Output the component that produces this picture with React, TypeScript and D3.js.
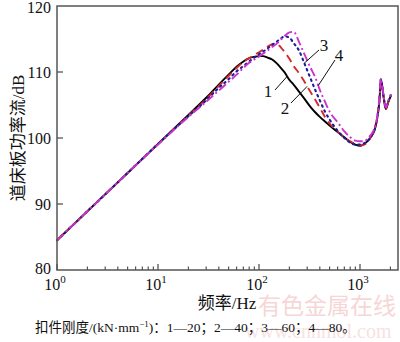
import React from "react";
import * as d3 from "d3";

const freq = [1, 2, 5, 10, 20, 30, 40, 50, 60, 70, 80, 90, 100, 110, 120, 135, 150, 165, 180, 200, 220, 250, 280, 320, 360, 400, 450, 500, 600, 700, 800, 900, 1000, 1100, 1200, 1300, 1400, 1500, 1560, 1610, 1660, 1720, 1800, 1900, 2020];

const curve1 = [84.5, 88.9, 94.7, 99.1, 103.5, 106.1, 108.1, 109.6, 110.8, 111.6, 112.1, 112.3, 112.4, 112.4, 112.2, 111.9, 111.3, 110.6, 109.9, 108.8, 108.1, 107.0, 106.0, 104.8, 103.9, 103.2, 102.5, 101.9, 100.9, 100.1, 99.4, 99.0, 98.8, 99.1, 99.6, 100.3, 101.3, 103.5, 105.8, 108.8, 107.8, 106.0, 104.4, 105.4, 106.4];
const curve2 = [84.5, 88.9, 94.7, 99.1, 103.4, 105.9, 107.9, 109.4, 110.6, 111.5, 112.1, 112.6, 113.0, 113.4, 113.8, 114.2, 114.3, 113.7, 113.0, 112.0, 110.9, 109.8, 108.6, 107.1, 105.8, 104.6, 103.2, 102.2, 101.0, 100.0, 99.5, 99.1, 98.9, 99.0, 99.5, 100.3, 101.3, 103.5, 105.8, 108.8, 107.8, 106.0, 104.4, 105.4, 106.4];
const curve3 = [84.5, 88.9, 94.7, 99.1, 103.3, 105.7, 107.6, 108.9, 110.1, 110.9, 111.6, 112.2, 112.7, 113.1, 113.5, 114.1, 114.6, 115.1, 115.4, 115.2, 114.4, 113.2, 111.4, 109.2, 107.3, 105.7, 104.0, 102.8, 101.1, 100.0, 99.3, 99.0, 99.0, 99.2, 99.6, 100.3, 101.4, 103.6, 105.9, 108.9, 107.9, 106.1, 104.5, 105.5, 106.5];
const curve4 = [84.5, 88.9, 94.7, 99.0, 103.2, 105.5, 107.2, 108.5, 109.6, 110.6, 111.4, 111.9, 112.3, 112.8, 113.2, 113.8, 114.3, 114.9, 115.5, 116.0, 116.1, 114.5, 112.8, 110.8, 109.2, 107.3, 105.5, 104.0, 102.4, 101.0, 100.1, 99.6, 99.5, 99.5, 100.0, 100.6, 101.6, 103.8, 106.2, 109.0, 108.0, 106.2, 104.6, 105.6, 106.6];

const yTicks = [80, 90, 100, 110, 120];
const xMajor = [1, 10, 100, 1000];
const xExp = ["0", "1", "2", "3"];
const curveLabels = ["1", "2", "3", "4"];

export default function App() {
  const W = 400, H = 342;
  const L = 57, R = 398, T = 6, B = 270;
  const x = d3.scaleLog().domain([1, 2378]).range([L, R]);
  const y = d3.scaleLinear().domain([80, 120]).range([B, T]);
  const line = d3.line<[number, number]>().x(d => x(d[0])).y(d => y(d[1])).curve(d3.curveMonotoneX);
  const mk = (vals: number[]) => line(freq.map((f, i) => [f, vals[i]]) as [number, number][]) || "";

  const minor: number[] = [];
  for (const dec of [1, 10, 100, 1000]) for (let k = 2; k <= 9; k++) if (dec * k <= 2378) minor.push(dec * k);

  const serif = "'Liberation Serif', 'Times New Roman', 'Noto Sans CJK SC', serif";
  const cjk = "'Liberation Serif', 'Noto Sans CJK SC', serif";
  const axisColor = "#555";

  const series = [
    { v: curve1, color: "#000000", dash: undefined as string | undefined, w: 1.9 },
    { v: curve2, color: "#d42a2a", dash: "8,5", w: 1.9 },
    { v: curve3, color: "#1c1c99", dash: "1.6,4", w: 2.1 },
    { v: curve4, color: "#cc33cc", dash: "9,3,2,3", w: 1.9 },
  ];

  const ann = [
    { t: curveLabels[0], tx: 268, ty: 97, x1: 275, y1: 90, f: 190, s: 0 },
    { t: curveLabels[1], tx: 285, ty: 114, x1: 291, y1: 103, f: 300, s: 1 },
    { t: curveLabels[2], tx: 324, ty: 51, x1: 319, y1: 50, f: 281, s: 2 },
    { t: curveLabels[3], tx: 339, ty: 61, x1: 335, y1: 60, f: 386, s: 3 },
  ];
  const interp = (vals: number[], f: number) => {
    const lf = Math.log10(f);
    for (let i = 0; i < freq.length - 1; i++) {
      const a = Math.log10(freq[i]), b = Math.log10(freq[i + 1]);
      if (lf >= a && lf <= b) return vals[i] + (vals[i + 1] - vals[i]) * (lf - a) / (b - a);
    }
    return vals[vals.length - 1];
  };

  return (
    <svg width={W} height={H} style={{ position: "absolute", left: 0, top: 0, background: "#fff" }}>
      <rect x={0} y={0} width={W} height={H} fill="#fff" />
      {/* watermark */}
      <text x={258} y={314} fontFamily="'Noto Sans CJK SC', sans-serif" fontSize={23} fill="#f6d6d6">有色金属在线</text>
      <text x={245} y={338} fontFamily="'Liberation Serif', serif" fontSize={20} fill="#f8e2e2">www.cnnmol.com</text>

      {/* curves */}
      <g fill="none">
        {series.map((s, i) => (
          <path key={i} d={mk(s.v)} stroke={s.color} strokeWidth={s.w} strokeDasharray={s.dash} strokeLinecap={i === 2 ? "round" : "butt"} />
        ))}
      </g>

      {/* frame */}
      <rect x={L} y={T} width={R - L} height={B - T} fill="none" stroke={axisColor} strokeWidth={1.5} />
      {yTicks.slice(1, -1).map(t => (
        <line key={t} x1={L} x2={L + 6} y1={y(t)} y2={y(t)} stroke={axisColor} strokeWidth={1.3} />
      ))}
      {xMajor.map(t => (
        <line key={t} x1={x(t)} x2={x(t)} y1={B} y2={B - 6} stroke={axisColor} strokeWidth={1.3} />
      ))}
      {minor.map(t => (
        <line key={t} x1={x(t)} x2={x(t)} y1={B} y2={B - 3.5} stroke={axisColor} strokeWidth={1.2} />
      ))}

      {/* y tick labels */}
      {yTicks.map(t => (
        <text key={t} x={L - 6} y={y(t) + (t === 80 ? 3.5 : t === 120 ? 6.5 : 5.5)} textAnchor="end" fontFamily={serif} fontSize={16} fill="#111">{t}</text>
      ))}
      {/* x tick labels */}
      {xMajor.map((t, i) => (
        <text key={t} x={x(t) - 2} y={290} textAnchor="middle" fontFamily={serif} fontSize={16} fill="#111">
          10<tspan fontSize={11} dy={-7}>{xExp[i]}</tspan>
        </text>
      ))}

      {/* axis titles */}
      <text transform={`translate(24,138) rotate(-90)`} textAnchor="middle" fontFamily={cjk} fontSize={17} fill="#111">道床板功率流/dB</text>
      <text x={227} y={309} textAnchor="middle" fontFamily={cjk} fontSize={17} fill="#111">频率/Hz</text>

      {/* caption */}
      <text x={35} y={332} fontFamily={cjk} fontSize={13.5} fill="#111">
        扣件刚度/(kN·mm<tspan fontSize={9} dy={-5}>−1</tspan><tspan dy={5}>)：1—20；2—40；3—60；4—80。</tspan>
      </text>

      {/* annotations */}
      {ann.map((a, i) => {
        const tv = interp(series[a.s].v, a.f);
        return <line key={i} x1={a.x1} y1={a.y1} x2={x(a.f)} y2={y(tv)} stroke="#111" strokeWidth={1} />;
      })}
      {ann.map((a, i) => (
        <text key={i} x={a.tx} y={a.ty} textAnchor="middle" fontFamily={serif} fontSize={17} fill="#111">{a.t}</text>
      ))}
    </svg>
  );
}
